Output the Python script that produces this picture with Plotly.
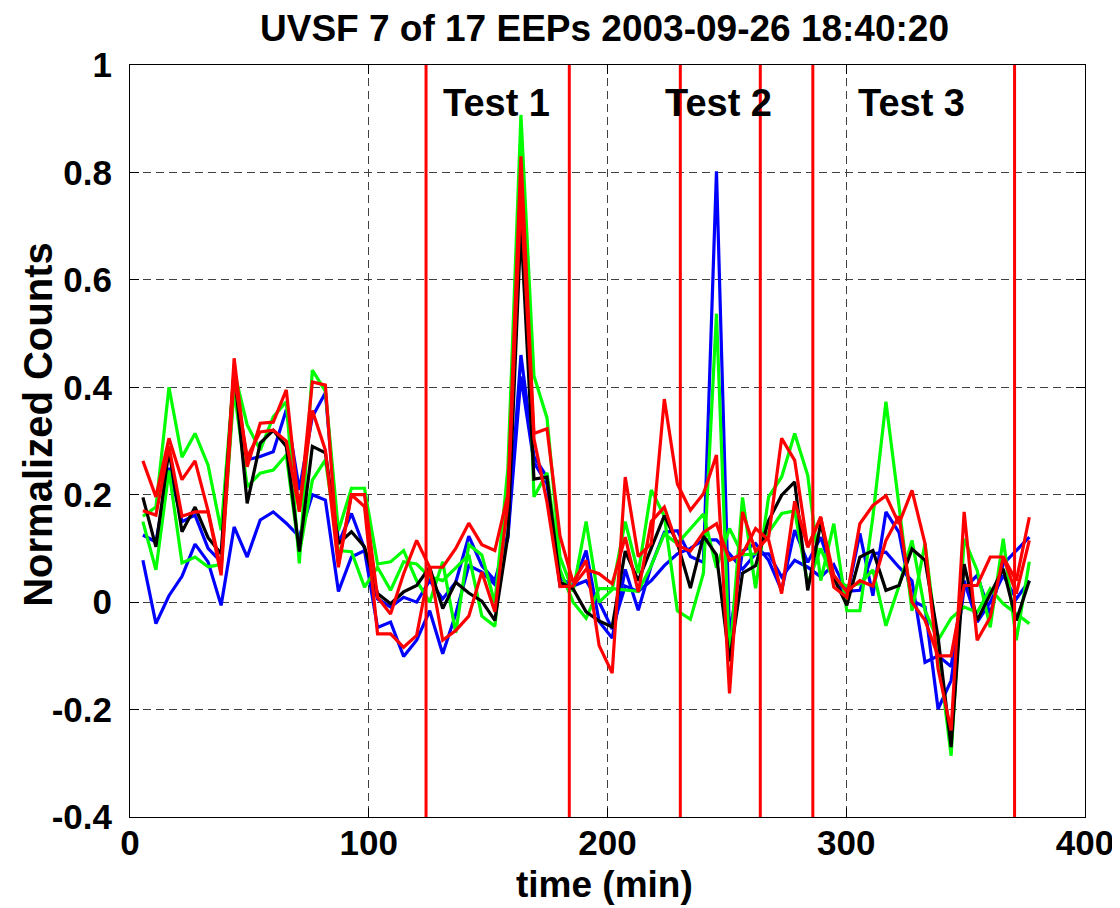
import plotly.graph_objects as go

# ---------------- data ----------------
time_min = [5.4, 10.86, 16.32, 21.78, 27.24, 32.7, 38.16, 43.62, 49.08, 54.54,
            60.0, 65.46, 70.92, 76.38, 81.84, 87.3, 92.76, 98.22, 103.68, 109.14,
            114.6, 120.06, 125.52, 130.98, 136.44, 141.9, 147.36, 152.82, 158.28, 163.74,
            169.2, 174.66, 180.12, 185.58, 191.04, 196.5, 201.96, 207.42, 212.88, 218.34,
            223.8, 229.26, 234.72, 240.18, 245.64, 251.1, 256.56, 262.02, 267.48, 272.94,
            278.4, 283.86, 289.32, 294.78, 300.24, 305.7, 311.16, 316.62, 322.08, 327.54,
            333.0, 338.46, 343.92, 349.38, 354.84, 360.3, 365.76, 371.22, 376.68]

black_1 = [0.195, 0.103, 0.283, 0.131, 0.177, 0.12, 0.09, 0.435, 0.184, 0.296,
           0.32, 0.29, 0.094, 0.29, 0.278, 0.109, 0.131, 0.103, 0.016, -0.003,
           0.019, 0.031, 0.065, -0.012, 0.037, 0.017, 0.002, -0.034, 0.123, 0.70,
           0.229, 0.233, 0.037, 0.025, -0.018, -0.035, -0.046, 0.095, 0.04, 0.102,
           0.161, 0.11, 0.026, 0.123, 0.088, -0.11, 0.054, 0.068, 0.152, 0.199,
           0.224, 0.022, 0.147, 0.045, -0.006, 0.084, 0.096, 0.022, 0.031, 0.099,
           0.078, -0.065, -0.27, 0.071, -0.034, 0.015, 0.062, -0.034, 0.04]

blue_1 = [0.125, 0.112, 0.25, 0.15, 0.162, 0.10, 0.075, 0.41, 0.265, 0.271,
          0.28, 0.358, 0.209, 0.345, 0.39, 0.11, 0.165, 0.10, 0.006, -0.009,
          0.009, 0.0, 0.04, 0.006, 0.037, 0.123, 0.068, 0.04, 0.127, 0.46,
          0.271, 0.233, 0.045, 0.03, 0.096, -0.036, -0.067, 0.061, -0.015, 0.068,
          0.13, 0.133, 0.085, 0.074, 0.802, -0.063, 0.095, 0.109, 0.078, 0.022,
          0.134, 0.074, 0.121, 0.047, 0.009, 0.128, 0.012, 0.168, 0.13, 0.003,
          -0.009, -0.199, -0.146, 0.025, 0.05, -0.022, 0.071, 0.096, 0.121]

blue_2 = [0.078, -0.04, 0.012, 0.048, 0.108, 0.075, -0.006, 0.14, 0.084, 0.153,
          0.168, 0.147, 0.122, 0.2, 0.19, 0.02, 0.084, 0.096, -0.047, -0.037,
          -0.101, -0.071, -0.016, -0.096, -0.022, 0.068, 0.056, 0.033, 0.12, 0.42,
          0.26, 0.22, 0.03, 0.03, 0.04, 0.0, -0.05, 0.03, 0.02, 0.04,
          0.068, 0.09, 0.10, 0.116, 0.116, 0.09, 0.061, 0.09, 0.09, 0.047,
          0.078, 0.065, 0.047, 0.07, 0.02, 0.022, 0.09, 0.093, 0.065, 0.04,
          -0.112, -0.10, -0.12, 0.04, -0.037, 0.0, 0.05, 0.006, 0.04]

green_1 = [0.16, 0.177, 0.40, 0.27, 0.314, 0.255, 0.134, 0.43, 0.33, 0.283,
           0.345, 0.373, 0.072, 0.432, 0.393, 0.133, 0.212, 0.212, 0.071, 0.075,
           0.096, 0.04, 0.0, 0.075, -0.057, 0.107, 0.088, -0.002, 0.249, 0.907,
           0.421, 0.343, 0.084, 0.02, 0.15, 0.0, 0.023, 0.15, 0.054, 0.209,
           0.16, -0.016, -0.032, 0.054, 0.537, -0.11, 0.195, 0.026, 0.196, 0.233,
           0.314, 0.236, 0.04, 0.146, -0.016, -0.016, 0.159, 0.373, 0.18, -0.016,
           0.109, -0.087, -0.286, 0.118, 0.059, -0.047, 0.118, -0.071, 0.075]

green_2 = [0.15, 0.06, 0.245, 0.073, 0.084, 0.066, 0.07, 0.395, 0.215, 0.24,
           0.246, 0.274, 0.09, 0.227, 0.265, 0.096, 0.094, 0.028, 0.065, 0.022,
           0.075, 0.071, 0.047, 0.04, 0.064, 0.088, -0.026, -0.045, 0.2, 0.87,
           0.196, 0.241, 0.06, 0.0, -0.03, 0.025, 0.025, 0.023, 0.02, 0.068,
           0.127, 0.109, 0.137, 0.164, 0.064, 0.137, 0.088, 0.09, 0.13, 0.165,
           0.17, 0.034, 0.10, 0.04, 0.03, 0.034, 0.06, -0.044, 0.03, 0.115,
           -0.016, -0.071, -0.03, -0.009, -0.019, 0.025, -0.003, -0.022, -0.04]

red_1 = [0.263, 0.196, 0.305, 0.228, 0.263, 0.17, 0.06, 0.454, 0.252, 0.333,
         0.335, 0.395, 0.168, 0.41, 0.404, 0.072, 0.2, 0.2, 0.009, -0.022,
         0.053, 0.115, 0.065, 0.065, 0.1, 0.147, 0.107, 0.096, 0.2, 0.83,
         0.314, 0.323, 0.123, 0.037, 0.078, -0.081, -0.132, 0.233, 0.085, 0.109,
         0.378, 0.22, 0.171, 0.202, 0.274, -0.17, 0.168, 0.095, 0.121, 0.305,
         0.264, 0.102, 0.159, 0.028, 0.009, 0.146, 0.18, 0.198, 0.146, 0.208,
         0.109, -0.124, -0.239, 0.168, -0.071, -0.028, 0.084, 0.04, 0.158]

red_2 = [0.17, 0.162, 0.29, 0.16, 0.168, 0.168, 0.05, 0.42, 0.27, 0.317,
         0.32, 0.30, 0.17, 0.357, 0.283, 0.065, 0.2, 0.178, -0.059, -0.059,
         -0.084, -0.062, 0.065, -0.071, -0.053, -0.026, 0.056, -0.018, 0.186, 0.757,
         0.304, 0.186, 0.029, 0.03, 0.061, 0.053, 0.034, 0.121, 0.019, 0.15,
         0.177, 0.106, 0.095, 0.13, 0.146, 0.078, 0.09, 0.137, 0.116, 0.016,
         0.188, 0.103, 0.157, 0.05, 0.02, 0.04, 0.03, 0.115, 0.16, 0.0,
         -0.034, -0.1, -0.1, 0.031, 0.031, 0.084, 0.084, 0.016, 0.115]

test_bounds = [124.0, 184.0, 230.5, 264.0, 286.0, 370.5]
test_labels = ["Test 1", "Test 2", "Test 3"]
test_label_x = [153.5, 246.5, 327.5]

x_ticks = [0, 100, 200, 300, 400]
y_ticks = [-0.4, -0.2, 0, 0.2, 0.4, 0.6, 0.8, 1]
y_tick_text = ["-0.4", "-0.2", "0", "0.2", "0.4", "0.6", "0.8", "1"]

title_text = "UVSF 7 of 17 EEPs 2003-09-26 18:40:20"

# ---------------- figure ----------------
FONT = "Liberation Sans"
series = [
    (blue_2, "#0000FF"),
    (blue_1, "#0000FF"),
    (green_2, "#00FF00"),
    (green_1, "#00FF00"),
    (black_1, "#000000"),
    (red_2, "#FF0000"),
    (red_1, "#FF0000"),
]

fig = go.Figure()
for vals, col in series:
    fig.add_trace(go.Scatter(x=time_min, y=vals, mode="lines",
                             line=dict(color=col, width=3.2), showlegend=False,
                             hoverinfo="skip"))

for xb in test_bounds:
    fig.add_shape(type="line", xref="x", yref="y domain", x0=xb, x1=xb, y0=0, y1=1,
                  line=dict(color="#FF0000", width=3), layer="above")

for lab, lx in zip(test_labels, test_label_x):
    fig.add_annotation(x=lx, y=0.93, xref="x", yref="y", text=lab, showarrow=False,
                       font=dict(family=FONT, size=38, color="black", weight="bold"),
                       xanchor="center", yanchor="middle")

# axis titles and main title
fig.add_annotation(x=0.497, y=-0.09, xref="paper", yref="paper", text="time (min)",
                   showarrow=False, xanchor="center", yanchor="middle",
                   font=dict(family=FONT, size=37, color="black", weight="bold"))
fig.add_annotation(x=-0.096, y=0.522, xref="paper", yref="paper", text="Normalized Counts",
                   showarrow=False, xanchor="center", yanchor="middle", textangle=-90,
                   font=dict(family=FONT, size=40, color="black", weight="bold"))
fig.add_annotation(x=0.497, y=1.049, xref="paper", yref="paper", text=title_text,
                   showarrow=False, xanchor="center", yanchor="middle",
                   font=dict(family=FONT, size=37, color="black", weight="bold"))

axis_common = dict(
    showline=True, linecolor="black", linewidth=1, mirror="ticks",
    ticks="inside", ticklen=9, tickcolor="black", tickwidth=1,
    showgrid=True, gridcolor="#404040", gridwidth=1, griddash="8px,5px",
    zeroline=False,
    tickfont=dict(family=FONT, size=35, color="black", weight="bold"),
)

fig.update_xaxes(range=[0, 400], tickvals=x_ticks, ticktext=[str(v) for v in x_ticks],
                 ticklabelstandoff=-5, **axis_common)
fig.update_yaxes(range=[-0.4, 1], tickvals=y_ticks, ticktext=y_tick_text,
                 ticklabelstandoff=10, **axis_common)

fig.update_layout(
    width=1120, height=908,
    margin=dict(l=122, r=43, t=57, b=99, autoexpand=False),
    paper_bgcolor="white", plot_bgcolor="white",
    showlegend=False,
    font=dict(family=FONT, color="black"),
)

fig.write_html("out.html")
